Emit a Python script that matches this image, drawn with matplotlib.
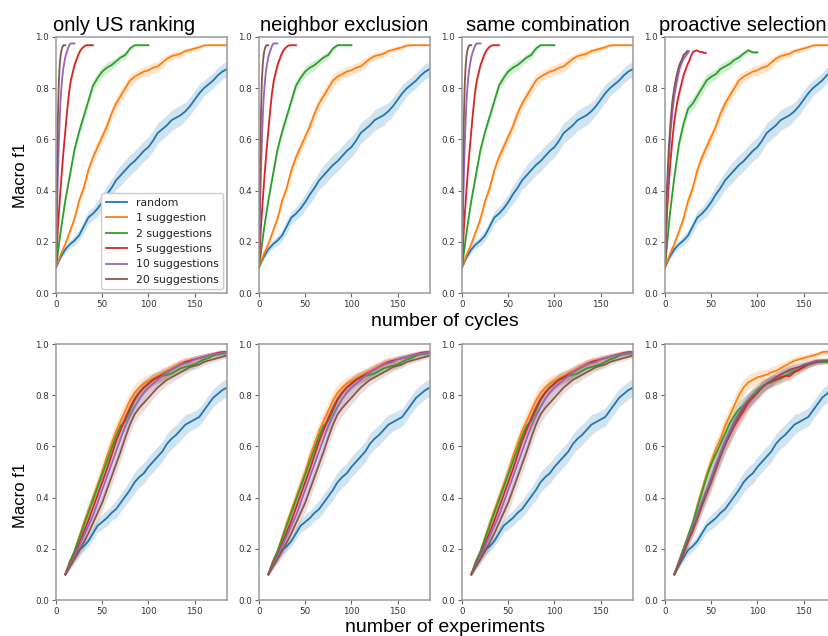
import numpy as np
import matplotlib
matplotlib.use("Agg")
import matplotlib.pyplot as plt

titles = ["only US ranking", "neighbor exclusion", "same combination", "proactive selection"]
labels = ["random", "1 suggestion", "2 suggestions", "5 suggestions", "10 suggestions", "20 suggestions"]
colors = ["#1f77b4", "#ff7f0e", "#2ca02c", "#d62728", "#9467bd", "#8c564b"]
yticks = [0.0, 0.2, 0.4, 0.6, 0.8, 1.0]
xticks = [0, 50, 100, 150]

# ---------------- row 1 : number of cycles ----------------
cyc_long = np.arange(0, 190, 5)
cyc_2 = np.arange(0, 105, 5)
cyc_5 = np.arange(0, 42, 2)
cyc_10 = np.arange(0, 21, 1)
cyc_20 = np.arange(0, 11, 1)
cyc_5_p = np.arange(0, 46, 2)
cyc_10_p = np.arange(0, 28, 2)
cyc_20_p = np.arange(0, 26, 2)

r1_random = [0.100, 0.140, 0.170, 0.190, 0.205, 0.225, 0.260, 0.295, 0.310, 0.330, 0.355, 0.385, 0.410,
             0.440, 0.460, 0.480, 0.500, 0.515, 0.535, 0.555, 0.570, 0.595, 0.625, 0.640, 0.655, 0.675,
             0.685, 0.695, 0.710, 0.730, 0.755, 0.780, 0.800, 0.815, 0.830, 0.850, 0.865, 0.875]
r1_random_sd = [0.005, 0.01, 0.015, 0.015, 0.02, 0.02, 0.025, 0.025, 0.025, 0.03, 0.03, 0.035, 0.035,
                0.035, 0.04, 0.04, 0.04, 0.04, 0.04, 0.04, 0.04, 0.04, 0.04, 0.04, 0.04, 0.04,
                0.04, 0.04, 0.035, 0.035, 0.035, 0.035, 0.03, 0.03, 0.03, 0.03, 0.03, 0.03]
r1_s1 = [0.10, 0.15, 0.19, 0.24, 0.29, 0.36, 0.41, 0.48, 0.53, 0.57, 0.61, 0.65, 0.70,
         0.74, 0.77, 0.80, 0.83, 0.845, 0.855, 0.865, 0.870, 0.880, 0.885, 0.900, 0.915, 0.925,
         0.930, 0.935, 0.945, 0.950, 0.955, 0.960, 0.967, 0.968, 0.968, 0.968, 0.968, 0.968]
r1_s1_sd = [0.005, 0.01, 0.01, 0.015, 0.015, 0.02, 0.02, 0.02, 0.025, 0.025, 0.025, 0.025, 0.025,
            0.025, 0.025, 0.025, 0.025, 0.02, 0.02, 0.02, 0.02, 0.02, 0.02, 0.02, 0.015, 0.015,
            0.015, 0.015, 0.01, 0.01, 0.01, 0.008, 0.005, 0.003, 0.003, 0.003, 0.003, 0.003]
r1_s2 = [0.10, 0.24, 0.36, 0.46, 0.56, 0.63, 0.69, 0.75, 0.81, 0.84, 0.865, 0.88, 0.89, 0.905,
         0.92, 0.93, 0.955, 0.968, 0.968, 0.968, 0.968]
r1_s2_sd = [0.005, 0.01, 0.015, 0.02, 0.02, 0.02, 0.02, 0.02, 0.02, 0.02, 0.02, 0.02, 0.02, 0.015,
            0.015, 0.015, 0.01, 0.005, 0.003, 0.003, 0.003]
r1_s5 = [0.10, 0.25, 0.36, 0.46, 0.55, 0.63, 0.71, 0.78, 0.83, 0.86, 0.89, 0.91, 0.93, 0.945,
         0.955, 0.962, 0.967, 0.968, 0.968, 0.968, 0.968]
r1_s5_sd = [0.005, 0.01, 0.015, 0.015, 0.015, 0.015, 0.015, 0.015, 0.015, 0.015, 0.012, 0.012, 0.01,
            0.008, 0.006, 0.005, 0.003, 0.003, 0.003, 0.003, 0.003]
r1_s10 = [0.10, 0.30, 0.45, 0.58, 0.68, 0.76, 0.81, 0.85, 0.88, 0.90, 0.92, 0.935, 0.945, 0.955,
          0.965, 0.972, 0.975, 0.975, 0.975, 0.975, 0.975]
r1_s10_sd = [0.005, 0.015, 0.015, 0.015, 0.015, 0.015, 0.015, 0.012, 0.012, 0.01, 0.01, 0.008, 0.008,
             0.006, 0.005, 0.004, 0.003, 0.003, 0.003, 0.003, 0.003]
r1_s20 = [0.10, 0.45, 0.68, 0.82, 0.89, 0.93, 0.95, 0.962, 0.968, 0.968, 0.968]
r1_s20_sd = [0.005, 0.015, 0.015, 0.012, 0.01, 0.008, 0.006, 0.004, 0.003, 0.003, 0.003]

# proactive selection, row 1
r1p_s2 = [0.10, 0.30, 0.45, 0.58, 0.66, 0.72, 0.74, 0.77, 0.80, 0.83, 0.845, 0.855, 0.875, 0.885,
          0.895, 0.91, 0.92, 0.935, 0.948, 0.94, 0.94]
r1p_s2_sd = [0.005, 0.015, 0.02, 0.025, 0.025, 0.025, 0.025, 0.025, 0.025, 0.025, 0.02, 0.02, 0.02, 0.02,
             0.02, 0.015, 0.015, 0.01, 0.008, 0.005, 0.005]
r1p_s5 = [0.10, 0.30, 0.42, 0.52, 0.60, 0.67, 0.72, 0.76, 0.79, 0.82, 0.85, 0.87, 0.89, 0.905,
          0.925, 0.94, 0.945, 0.948, 0.945, 0.942, 0.942, 0.938, 0.938]
r1p_s5_sd = [0.005, 0.015, 0.02, 0.02, 0.02, 0.02, 0.02, 0.02, 0.02, 0.02, 0.018, 0.015, 0.012, 0.01,
             0.008, 0.006, 0.005, 0.004, 0.004, 0.004, 0.004, 0.004, 0.004]
r1p_s10 = [0.10, 0.35, 0.52, 0.63, 0.71, 0.77, 0.81, 0.85, 0.88, 0.90, 0.915, 0.925, 0.935, 0.945]
r1p_s10_sd = [0.005, 0.02, 0.025, 0.025, 0.025, 0.025, 0.025, 0.022, 0.02, 0.018, 0.015, 0.012, 0.01, 0.008]
r1p_s20 = [0.10, 0.40, 0.56, 0.67, 0.75, 0.80, 0.84, 0.87, 0.895, 0.91, 0.93, 0.935, 0.945]
r1p_s20_sd = [0.005, 0.02, 0.025, 0.025, 0.025, 0.025, 0.022, 0.02, 0.018, 0.015, 0.012, 0.01, 0.008]

# ---------------- row 2 : number of experiments ----------------
exp_x = np.arange(10, 190, 5)

r2_random = [0.100, 0.135, 0.165, 0.195, 0.210, 0.230, 0.260, 0.290, 0.305, 0.320, 0.340, 0.355,
             0.380, 0.405, 0.430, 0.460, 0.480, 0.495, 0.520, 0.540, 0.560, 0.580, 0.610, 0.630,
             0.645, 0.665, 0.685, 0.695, 0.705, 0.715, 0.740, 0.765, 0.790, 0.805, 0.820, 0.830]
r2_random_sd = [0.005, 0.01, 0.015, 0.02, 0.02, 0.02, 0.025, 0.025, 0.03, 0.03, 0.03, 0.035,
                0.035, 0.035, 0.04, 0.04, 0.04, 0.04, 0.04, 0.04, 0.04, 0.04, 0.04, 0.04,
                0.04, 0.04, 0.04, 0.035, 0.035, 0.035, 0.035, 0.035, 0.035, 0.035, 0.035, 0.035]
r2_sugg_sd = [0.005, 0.012, 0.018, 0.022, 0.025, 0.028, 0.03, 0.032, 0.034, 0.035, 0.035, 0.035,
              0.035, 0.035, 0.033, 0.032, 0.03, 0.028, 0.026, 0.024, 0.022, 0.022, 0.02, 0.02,
              0.018, 0.018, 0.016, 0.015, 0.014, 0.013, 0.012, 0.011, 0.01, 0.01, 0.009, 0.009]

r2_s1 = [0.10, 0.15, 0.19, 0.245, 0.30, 0.35, 0.40, 0.45, 0.50, 0.56, 0.61, 0.66, 0.70, 0.74,
         0.78, 0.81, 0.83, 0.845, 0.855, 0.865, 0.875, 0.885, 0.895, 0.905, 0.915, 0.925,
         0.93, 0.935, 0.94, 0.945, 0.95, 0.955, 0.96, 0.965, 0.968, 0.968]
r2_s2 = [0.10, 0.15, 0.19, 0.24, 0.29, 0.34, 0.39, 0.44, 0.49, 0.54, 0.59, 0.64, 0.68, 0.70,
         0.74, 0.78, 0.81, 0.83, 0.845, 0.86, 0.87, 0.875, 0.88, 0.885, 0.895, 0.905,
         0.91, 0.915, 0.92, 0.93, 0.94, 0.945, 0.955, 0.96, 0.962, 0.965]
r2_s5 = [0.10, 0.14, 0.175, 0.22, 0.265, 0.31, 0.36, 0.41, 0.46, 0.51, 0.565, 0.62, 0.665, 0.71,
         0.75, 0.785, 0.81, 0.83, 0.845, 0.86, 0.87, 0.88, 0.89, 0.90, 0.91, 0.92,
         0.93, 0.935, 0.94, 0.945, 0.95, 0.955, 0.96, 0.965, 0.968, 0.968]
r2_s10 = [0.10, 0.135, 0.17, 0.21, 0.25, 0.29, 0.33, 0.38, 0.43, 0.48, 0.53, 0.58, 0.63, 0.68,
          0.72, 0.755, 0.785, 0.81, 0.83, 0.845, 0.86, 0.875, 0.89, 0.90, 0.91, 0.92,
          0.925, 0.93, 0.94, 0.945, 0.95, 0.955, 0.96, 0.962, 0.965, 0.965]
r2_s20 = [0.10, 0.13, 0.16, 0.19, 0.225, 0.26, 0.30, 0.34, 0.38, 0.43, 0.48, 0.53, 0.58, 0.635,
          0.685, 0.725, 0.75, 0.77, 0.79, 0.81, 0.83, 0.845, 0.86, 0.87, 0.88, 0.89,
          0.90, 0.91, 0.915, 0.92, 0.93, 0.935, 0.94, 0.945, 0.95, 0.955]

r2p_s1 = [0.10, 0.15, 0.20, 0.25, 0.30, 0.37, 0.43, 0.49, 0.54, 0.59, 0.63, 0.68, 0.72, 0.76,
          0.80, 0.83, 0.85, 0.86, 0.87, 0.875, 0.88, 0.89, 0.895, 0.905, 0.915, 0.925,
          0.935, 0.94, 0.945, 0.95, 0.955, 0.96, 0.968, 0.97, 0.97, 0.97]
r2p_s2 = [0.10, 0.15, 0.20, 0.25, 0.30, 0.36, 0.42, 0.48, 0.53, 0.57, 0.61, 0.65, 0.69, 0.72,
          0.745, 0.76, 0.78, 0.80, 0.82, 0.835, 0.845, 0.85, 0.86, 0.865, 0.875, 0.885,
          0.895, 0.90, 0.91, 0.92, 0.925, 0.93, 0.93, 0.93, 0.93, 0.93]
r2p_s5 = [0.10, 0.14, 0.18, 0.23, 0.27, 0.32, 0.37, 0.42, 0.47, 0.52, 0.565, 0.61, 0.645, 0.68,
          0.71, 0.74, 0.77, 0.79, 0.81, 0.83, 0.845, 0.855, 0.86, 0.87, 0.875, 0.875,
          0.89, 0.90, 0.91, 0.92, 0.93, 0.935, 0.935, 0.935, 0.935, 0.935]
r2p_s10 = [0.10, 0.145, 0.19, 0.24, 0.285, 0.335, 0.385, 0.43, 0.48, 0.53, 0.575, 0.62, 0.66, 0.70,
           0.73, 0.76, 0.78, 0.80, 0.815, 0.83, 0.845, 0.86, 0.87, 0.88, 0.89, 0.895,
           0.905, 0.91, 0.92, 0.925, 0.93, 0.932, 0.935, 0.935, 0.935, 0.935]
r2p_s20 = [0.10, 0.14, 0.185, 0.23, 0.275, 0.32, 0.37, 0.415, 0.46, 0.51, 0.56, 0.605, 0.645, 0.685,
           0.72, 0.75, 0.775, 0.795, 0.81, 0.83, 0.845, 0.855, 0.87, 0.88, 0.89, 0.90,
           0.905, 0.91, 0.915, 0.92, 0.925, 0.93, 0.932, 0.935, 0.935, 0.935]

row1_std = [(cyc_long, r1_random, r1_random_sd), (cyc_long, r1_s1, r1_s1_sd), (cyc_2, r1_s2, r1_s2_sd),
            (cyc_5, r1_s5, r1_s5_sd), (cyc_10, r1_s10, r1_s10_sd), (cyc_20, r1_s20, r1_s20_sd)]
row1_pro = [(cyc_long, r1_random, r1_random_sd), (cyc_long, r1_s1, r1_s1_sd), (cyc_2, r1p_s2, r1p_s2_sd),
            (cyc_5_p, r1p_s5, r1p_s5_sd), (cyc_10_p, r1p_s10, r1p_s10_sd), (cyc_20_p, r1p_s20, r1p_s20_sd)]
row2_std = [(exp_x, r2_random, r2_random_sd)] + [(exp_x, s, r2_sugg_sd) for s in (r2_s1, r2_s2, r2_s5, r2_s10, r2_s20)]
row2_pro = [(exp_x, r2_random, r2_random_sd)] + [(exp_x, s, r2_sugg_sd) for s in (r2p_s1, r2p_s2, r2p_s5, r2p_s10, r2p_s20)]

W, H = 829, 636
fig = plt.figure(figsize=(W / 100, H / 100), dpi=100)

lefts = [56, 259, 462, 665]
aw = 171
row_tb = [(37, 293), (344, 600)]

title_font = dict(family="Liberation Sans", fontsize=14.5)
spine_col = "#9a9a9a"

for r, (top, bot) in enumerate(row_tb):
    for c, lx in enumerate(lefts):
        ax = fig.add_axes([lx / W, 1 - bot / H, aw / W, (bot - top) / H])
        if r == 0:
            series = row1_pro if c == 3 else row1_std
        else:
            series = row2_pro if c == 3 else row2_std
        for (xs, ys, sd), lab, col in zip(series, labels, colors):
            ys = np.asarray(ys)
            sd = np.asarray(sd)
            ax.fill_between(xs, ys - sd, ys + sd, color=col, alpha=0.2, linewidth=0)
            ax.plot(xs, ys, color=col, lw=1.3, label=lab)
        ax.set_xlim(0, 185)
        ax.set_ylim(0, 1.0)
        ax.set_xticks(xticks)
        ax.set_yticks(yticks)
        ax.set_yticklabels([f"{v:.1f}" for v in yticks])
        ax.tick_params(labelsize=6.3, length=3, width=0.8, pad=2, colors="#666666", labelcolor="#333333")
        for sp in ax.spines.values():
            sp.set_color(spine_col)
            sp.set_linewidth(1.1)
        if r == 0:
            if c == 0:
                ax.set_title(titles[c], x=0.40, pad=4, **title_font)
            elif c == 3:
                # keep the whole title inside the canvas (reference is cropped at the right)
                ax.set_title(titles[c], x=(827 - lx) / aw, ha="right", pad=4, **title_font)
            else:
                ax.set_title(titles[c], pad=4, **title_font)
        if r == 0 and c == 0:
            leg = ax.legend(loc="lower right", fontsize=7.8, labelspacing=0.5, handlelength=2.0,
                            borderaxespad=0.35, framealpha=1.0, edgecolor="#cccccc")
            for t in leg.get_texts():
                t.set_color("#222222")

fig.text(21 / W, 1 - 175 / H, "Macro f1", rotation=90, ha="center", va="center",
         family="Liberation Sans", fontsize=12)
fig.text(21 / W, 1 - 495 / H, "Macro f1", rotation=90, ha="center", va="center",
         family="Liberation Sans", fontsize=12)
fig.text(445 / W, 1 - 322 / H, "number of cycles", ha="center", va="center",
         family="Liberation Sans", fontsize=14)
fig.text(445 / W, 1 - 627 / H, "number of experiments", ha="center", va="center",
         family="Liberation Sans", fontsize=14)

fig.savefig("out.png", dpi=100)
